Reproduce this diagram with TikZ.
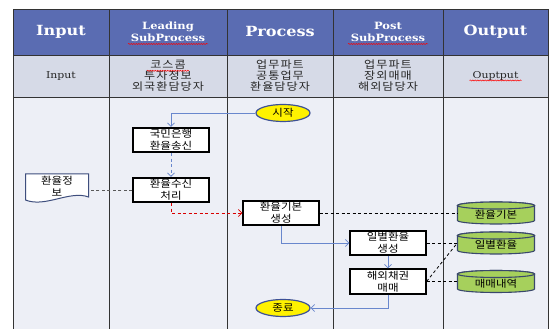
\documentclass[tikz,border=0pt]{standalone}
\usepackage{fontspec}
\usepackage{tikz}
\usetikzlibrary{arrows.meta}
\usetikzlibrary{shapes.geometric}
\usetikzlibrary{calc}
\usetikzlibrary{decorations.pathmorphing}
\newfontfamily\kr[FakeStretch=1.15]{Noto Sans CJK KR}
\newfontfamily\krw[FakeStretch=1.15,LetterSpace=10]{Noto Sans CJK KR}
\newfontfamily\hdr[FakeStretch=1.15]{DejaVu Serif}
\definecolor{hdrblue}{RGB}{90,108,178}
\definecolor{rowgray}{RGB}{214,218,231}
\definecolor{lanebg}{RGB}{237,239,246}
\definecolor{flowblue}{RGB}{105,135,205}
\definecolor{ellblue}{RGB}{60,80,150}
\definecolor{dbgreen}{RGB}{166,208,92}
\definecolor{dbline}{RGB}{58,72,108}
\definecolor{docline}{RGB}{62,78,125}
\tikzset{
  gridline/.style={draw=black!80,line width=0.8pt},
  hdrtext/.style={text=white,font=\hdr\bfseries\fontsize{14}{16}\selectfont},
  hdrsmall/.style={text=white,align=center,font=\hdr\bfseries\fontsize{10}{11.5}\selectfont},
  roletext/.style={text=black!85,align=center,font=\krw\fontsize{10.5}{11}\selectfont},
  rolelatin/.style={text=black!85,font=\hdr\fontsize{9.5}{11}\selectfont},
  wavy/.style={draw=red,line width=0.5pt,decorate,decoration={snake,amplitude=0.6pt,segment length=2.5pt}},
  procbox/.style={draw=black,line width=1.7pt,fill=white,minimum width=75.5pt,minimum height=24.5pt,inner sep=0pt,align=center,font=\kr\fontsize{10}{12}\selectfont},
  terminal/.style={ellipse,draw=ellblue,line width=1.2pt,fill=yellow,minimum width=54pt,minimum height=17pt,inner sep=0pt,font=\kr\fontsize{10}{12}\selectfont},
  dbtext/.style={minimum width=77pt,minimum height=22pt,inner sep=0pt,font=\kr\fontsize{10}{12}\selectfont},
  dbshape/.style={draw=dbline,fill=dbgreen,line width=1.1pt},
  docshape/.style={draw=docline,fill=white,line width=1pt},
  doctext/.style={minimum width=63pt,minimum height=24pt,inner sep=0pt,align=center,font=\kr\fontsize{10}{12}\selectfont},
  flow/.style={draw=flowblue,line width=0.8pt,->},
  redflow/.style={draw=red!85!black,line width=0.8pt,dash pattern=on 3pt off 2.5pt,->},
  link/.style={draw=black,line width=0.8pt,dash pattern=on 3pt off 2.5pt},
  >={Straight Barb[length=3.5pt,width=7pt]}
}
\begin{document}
\begin{tikzpicture}[x=1pt,y=1pt]
  \useasboundingbox (0,0) rectangle (549,329);
  \fill[lanebg] (13,0) rectangle (548,232);
  \fill[rowgray] (13,232) rectangle (548,274);
  \fill[hdrblue] (13,274) rectangle (548,320);
  \draw[gridline] (13,0) -- (13,320) -- (548,320) -- (548,0);
  \foreach \x in {109,227,333,443}
    \draw[gridline] (\x,0) -- (\x,320);
  \draw[gridline] (13,274) -- (548,274);
  \draw[gridline] (13,232) -- (548,232);

  \node[hdrtext] (hin) at (61,297) {Input};
  \node[hdrsmall] (hlead) at (168,297) {Leading\\SubProcess};
  \node[hdrtext] (hproc) at (280,297) {Process};
  \node[hdrsmall] (hpost) at (388,297) {Post\\SubProcess};
  \node[hdrtext] (hout) at (495.5,297) {Output};

  \node[rolelatin] (rin) at (61,253) {Input};
  \node[roletext] (rlead) at (168,253) {코스콤\\투자정보\\외국환담당자};
  \node[roletext] (rproc) at (280,253) {업무파트\\공통업무\\환율담당자};
  \node[roletext] (rpost) at (388,253) {업무파트\\장외매매\\해외담당자};
  \node[rolelatin] (rout) at (495.5,253) {Ouptput};

  \draw[wavy] ($(hlead.center)+(-40,-12)$) -- ++(80,0);
  \draw[wavy] ($(hpost.center)+(-40,-12)$) -- ++(80,0);
  \draw[wavy] ($(rlead.center)+(-21,5.2)$) -- ++(42,0);
  \draw[wavy] ($(rout.center)+(-26,-4.5)$) -- ++(52,0);

  \foreach \y in {116,86,47.5} {
    \filldraw[dbshape] (457.5,\y+7.5) -- (457.5,\y-7.5)
      arc[start angle=180,end angle=360,x radius=38.5,y radius=3.5]
      -- (534.5,\y+7.5)
      arc[start angle=0,end angle=180,x radius=38.5,y radius=3.5] -- cycle;
    \draw[dbshape] (496,\y+7.5) ellipse[x radius=38.5,y radius=3.5];
  }
  \filldraw[docshape] (25.5,155) -- (88.5,155) -- (88.5,132)
    .. controls (70,139) and (45,121) .. (25.5,129) -- cycle;

  \node[terminal] (start) at (283,216) {시작};
  \node[procbox] (kb) at (171,189) {국민은행\\환율송신};
  \node[procbox] (recv) at (171,139) {환율수신\\처리};
  \node[doctext] (info) at (57,143) {환율정\\보};
  \node[procbox] (base) at (281,116) {환율기본\\생성};
  \node[procbox] (daily) at (388,86) {일별환율\\생성};
  \node[procbox] (trade) at (388,47.5) {해외채권\\매매};
  \node[terminal] (end) at (283,21) {종료};
  \node[dbtext] (db1) at (496,114) {환율기본};
  \node[dbtext] (db2) at (496,84) {일별환율};
  \node[dbtext] (db3) at (496,45.5) {매매내역};

  \draw[flow] (start.west) -| (kb.north);
  \draw[flow,dash pattern=on 3pt off 2.5pt] (kb.south) -- (recv.north);
  \draw[draw=black!65,line width=0.8pt,dash pattern=on 3pt off 2.5pt] (recv.west) -- (recv.west -| info.east);
  \draw[redflow] (recv.south) |- (base.west);
  \draw[flow] (base.south) |- (daily.west);
  \draw[flow] (daily.south) -- (trade.north);
  \draw[flow] (trade.south) |- (end.east);
  \draw[link] (base.east) -- (base.east -| db1.west);
  \draw[link] (daily.east) -- (daily.east -| db2.west);
  \draw[link] (trade.east) -- (trade.east -| db3.west);
  \draw[link] (trade.east) -- (daily.east -| db2.west);
\end{tikzpicture}
\end{document}
